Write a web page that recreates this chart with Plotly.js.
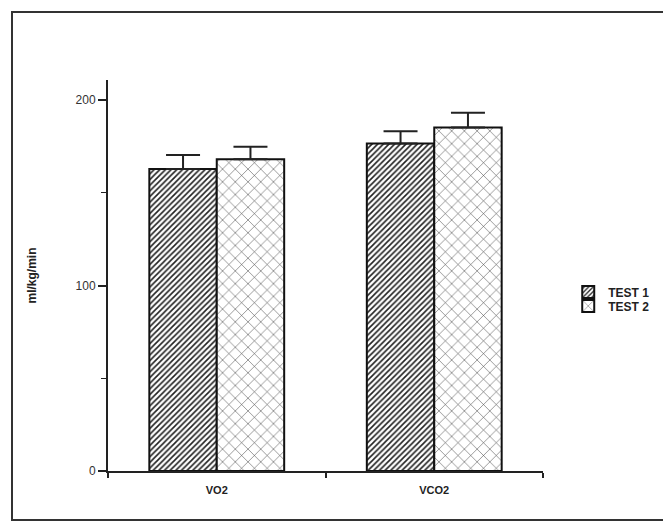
<!DOCTYPE html>
<html>
<head>
<meta charset="utf-8">
<script src="https://cdn.plot.ly/plotly-3.0.1.min.js"></script>
<style>html,body{margin:0;padding:0;background:#fff;}#chart{width:663px;height:522px;}</style>
</head>
<body>
<div id="chart"></div>
<script>
const categories = ["VO2", "VCO2"];
const seriesNames = ["TEST 1", "TEST 2"];
const test1Values = [162.8, 176.6];
const test1Errors = [7.6, 6.6];
const test2Values = [168.1, 185.2];
const test2Errors = [6.7, 8.0];
const yTickValues = [0, 100, 200];
const yTickLabels = ["0", "100", "200"];

const FONT = "Liberation Sans, Arial, sans-serif";

const trace1 = {
  type: "bar", name: seriesNames[0], x: categories, y: test1Values, legend: "legend",
  marker: {color: "#ffffff", line: {color: "#111", width: 2},
           pattern: {shape: "/", fgcolor: "#222", bgcolor: "#ffffff", size: 4, solidity: 0.4}},
  error_y: {type: "data", symmetric: false, array: test1Errors, arrayminus: [0, 0],
            color: "#222", thickness: 2, width: 17}
};
const trace2 = {
  type: "bar", name: seriesNames[1], x: categories, y: test2Values, legend: "legend2",
  marker: {color: "#ffffff", line: {color: "#111", width: 2},
           pattern: {shape: "x", fgcolor: "#3a3a3a", bgcolor: "#ffffff", size: 9, solidity: 0.11}},
  error_y: {type: "data", symmetric: false, array: test2Errors, arrayminus: [0, 0],
            color: "#222", thickness: 2, width: 17}
};

const legendBase = {
  xanchor: "left", yanchor: "middle",
  font: {family: FONT, size: 12, color: "#222", weight: "bold"},
  itemwidth: 30, bgcolor: "rgba(0,0,0,0)", borderwidth: 0
};

const layout = {
  width: 663, height: 522,
  margin: {l: 108, r: 120, t: 80, b: 51, autoexpand: false},
  paper_bgcolor: "#ffffff", plot_bgcolor: "#ffffff",
  barmode: "group", bargap: 0.38, bargroupgap: 0,
  showlegend: true,
  legend: Object.assign({}, legendBase, {x: 1.058, y: 0.458}),
  legend2: Object.assign({}, legendBase, {x: 1.058, y: 0.422}),
  xaxis: {
    type: "category", range: [-0.5, 1.5], showgrid: false, zeroline: false,
    showline: true, linecolor: "#222", linewidth: 2,
    ticks: "outside", tickson: "boundaries", ticklen: 5, tickcolor: "#222", tickwidth: 2,
    ticklabelstandoff: 8,
    tickfont: {family: FONT, size: 11, color: "#222", weight: "bold"},
    fixedrange: true
  },
  yaxis: {
    range: [0, 210.8], showgrid: false, zeroline: false,
    showline: true, linecolor: "#222", linewidth: 2,
    tickvals: yTickValues, ticktext: yTickLabels,
    ticks: "outside", ticklen: 8, tickcolor: "#222", tickwidth: 2,
    minor: {dtick: 50, ticks: "outside", ticklen: 5, tickcolor: "#222", tickwidth: 1, showgrid: false},
    tickfont: {family: FONT, size: 12, color: "#333"},
    title: {text: "ml/kg/min", font: {family: FONT, size: 12, color: "#222", weight: "bold"}, standoff: 36},
    fixedrange: true
  },
  shapes: [
    {type: "rect", xref: "paper", yref: "paper",
     x0: (12 - 108) / 435, x1: (690 - 108) / 435, y0: (471 - 520) / 391, y1: (471 - 12) / 391,
     line: {color: "#333", width: 2}, fillcolor: "rgba(0,0,0,0)", layer: "below"}
  ]
};

Plotly.newPlot("chart", [trace1, trace2], layout, {displayModeBar: false, staticPlot: true});
</script>
</body>
</html>
